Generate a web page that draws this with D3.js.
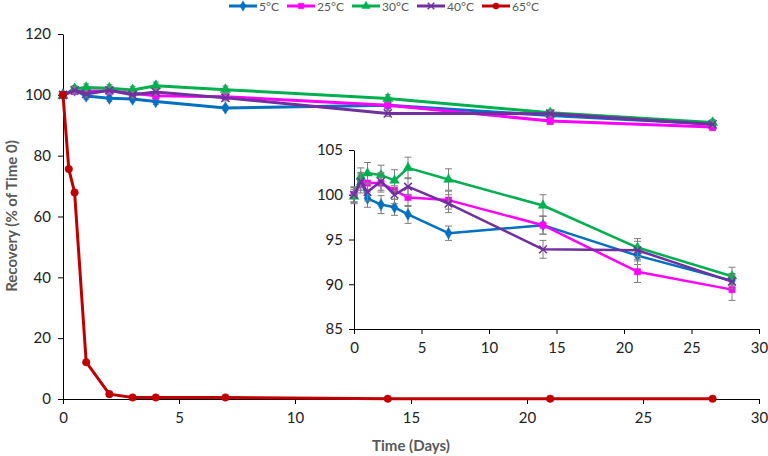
<!DOCTYPE html>
<html><head><meta charset="utf-8">
<script src="https://cdn.jsdelivr.net/npm/d3@7"></script>
<style>
body{margin:0;background:#fff;}
text{font-family:Lato,"Open Sans",sans-serif;}
</style></head>
<body><svg id="c" width="768" height="456"></svg>
<script>
const times = [0, 0.5, 1, 2, 3, 4, 7, 14, 21, 28];
const times65 = [0, 0.25, 0.5, 1, 2, 3, 4, 7, 14, 21, 28];
const seriesNames = ["5°C", "25°C", "30°C", "40°C", "65°C"];
const rec5  = [100.0, 101.6, 99.6, 98.9, 98.6, 97.8, 95.7, 96.6, 93.2, 90.4];
const err5  = [0.9, 0.8, 1.0, 1.0, 0.9, 1.0, 0.8, 1.0, 1.0, 0.8];
const rec25 = [100.0, 101.2, 101.3, 101.3, 100.5, 99.7, 99.4, 96.6, 91.4, 89.4];
const err25 = [0.8, 1.0, 1.0, 1.0, 1.0, 1.0, 1.0, 1.0, 1.2, 1.2];
const rec30 = [99.8, 102.0, 102.4, 102.2, 101.6, 103.0, 101.7, 98.8, 94.1, 90.9];
const err30 = [0.8, 1.0, 1.2, 1.1, 1.2, 1.2, 1.2, 1.2, 1.0, 1.0];
const rec40 = [100.0, 101.5, 100.3, 101.5, 100.0, 100.9, 99.0, 93.9, 93.8, 90.3];
const err40 = [0.8, 1.0, 1.0, 1.0, 1.0, 1.0, 1.0, 1.0, 1.0, 0.8];
const rec65 = [100.0, 75.6, 67.9, 12.1, 1.6, 0.5, 0.5, 0.5, 0.1, 0.1, 0.1];
const err65 = [0.3, 0.3, 0.3, 0.3, 0.3, 0.2, 0.2, 0.2, 0.1, 0.1, 0.1];
const mainXTicks = [0, 5, 10, 15, 20, 25, 30];
const mainYTicks = [0, 20, 40, 60, 80, 100, 120];
const insetXTicks = [0, 5, 10, 15, 20, 25, 30];
const insetYTicks = [85, 90, 95, 100, 105];

const colors = ["#0070C0", "#FF00FF", "#00B050", "#7030A0", "#C00000"];
const shapes = [d3.symbolDiamond, d3.symbolSquare, d3.symbolTriangle, d3.symbolX, d3.symbolCircle];
const series = [
  {name: seriesNames[0], t: times, v: rec5, e: err5},
  {name: seriesNames[1], t: times, v: rec25, e: err25},
  {name: seriesNames[2], t: times, v: rec30, e: err30},
  {name: seriesNames[3], t: times, v: rec40, e: err40},
  {name: seriesNames[4], t: times65, v: rec65, e: err65}
];

const svg = d3.select("#c");

function marker(g, i, x, y, size) {
  const sym = d3.symbol().type(shapes[i]).size(size);
  const p = g.append("path").attr("d", sym()).attr("transform", `translate(${x},${y})`);
  if (shapes[i] === d3.symbolX) {
    p.attr("fill", "none").attr("stroke", colors[i]).attr("stroke-width", 1.5);
  } else {
    p.attr("fill", colors[i]).attr("stroke", colors[i]).attr("stroke-width", 0.5);
  }
}

function drawChart(opts) {
  const {x, y, list, lw, ms, cap} = opts;
  const g = svg.append("g");
  list.forEach(s => {
    const i = series.indexOf(s);
    const pts = s.t.map((t, k) => ({t, v: s.v[k], e: s.e[k]}));
    const eg = g.append("g").attr("stroke", "#7F7F7F").attr("stroke-width", 1);
    pts.forEach(p => {
      const px = x(p.t), y1 = y(p.v + p.e), y2 = y(p.v - p.e);
      eg.append("line").attr("x1", px).attr("x2", px).attr("y1", y1).attr("y2", y2);
      eg.append("line").attr("x1", px - cap).attr("x2", px + cap).attr("y1", y1).attr("y2", y1);
      eg.append("line").attr("x1", px - cap).attr("x2", px + cap).attr("y1", y2).attr("y2", y2);
    });
    g.append("path").datum(pts)
      .attr("fill", "none").attr("stroke", colors[i]).attr("stroke-width", lw)
      .attr("stroke-linejoin", "round")
      .attr("d", d3.line().x(p => x(p.t)).y(p => y(p.v)));
    pts.forEach(p => marker(g, i, x(p.t), y(p.v), ms));
  });
}

// Main chart
const mx = d3.scaleLinear().domain([0, 30]).range([63, 759]);
const my = d3.scaleLinear().domain([0, 120]).range([399, 34]);

const mxAxis = svg.append("g").attr("transform", "translate(0,399)")
  .call(d3.axisBottom(mx).tickValues(mainXTicks).tickSize(5).tickSizeOuter(0).tickPadding(8));
const myAxis = svg.append("g").attr("transform", "translate(63,0)")
  .call(d3.axisLeft(my).tickValues(mainYTicks).tickSize(5).tickSizeOuter(0).tickPadding(7));
[mxAxis, myAxis].forEach(a => {
  a.selectAll("path,line").attr("stroke", "#000");
  a.selectAll("text").attr("font-size", 15).attr("fill", "#222").attr("font-family", "Lato");
});

// Inset chart
const ix = d3.scaleLinear().domain([0, 30]).range([354, 759]);
const iy = d3.scaleLinear().domain([85, 105]).range([329, 150]);
const ixAxis = svg.append("g").attr("transform", "translate(0,329)")
  .call(d3.axisBottom(ix).tickValues(insetXTicks).tickSize(5).tickSizeOuter(0).tickPadding(8));
const iyAxis = svg.append("g").attr("transform", "translate(354,0)")
  .call(d3.axisLeft(iy).tickValues(insetYTicks).tickSize(5).tickSizeOuter(0).tickPadding(6));
[ixAxis, iyAxis].forEach(a => {
  a.selectAll("path,line").attr("stroke", "#000");
  a.selectAll("text").attr("font-size", 15).attr("fill", "#222").attr("font-family", "Lato");
});

drawChart({x: mx, y: my, list: series, lw: 3, ms: 45, cap: 3});
drawChart({x: ix, y: iy, list: series.slice(0, 4), lw: 2.5, ms: 40, cap: 3.5});

// Axis titles
svg.append("text").attr("x", 411).attr("y", 451).attr("text-anchor", "middle")
  .attr("font-size", 15).attr("font-weight", "bold").attr("fill", "#595959").text("Time (Days)");
svg.append("text").attr("transform", "translate(17,216) rotate(-90)").attr("text-anchor", "middle")
  .attr("font-size", 15).attr("font-weight", "bold").attr("fill", "#595959").text("Recovery (% of Time 0)");

// Legend
const legX = [229, 287, 352, 417, 482];
const leg = svg.append("g");
series.forEach((s, i) => {
  const lx = legX[i], ly = 6;
  leg.append("line").attr("x1", lx).attr("x2", lx + 28).attr("y1", ly).attr("y2", ly)
    .attr("stroke", colors[i]).attr("stroke-width", 3);
  marker(leg, i, lx + 14, ly, 30);
  leg.append("text").attr("x", lx + 30).attr("y", ly + 4.5).attr("font-size", 12)
    .attr("fill", "#595959").text(s.name);
});
</script></body></html>
